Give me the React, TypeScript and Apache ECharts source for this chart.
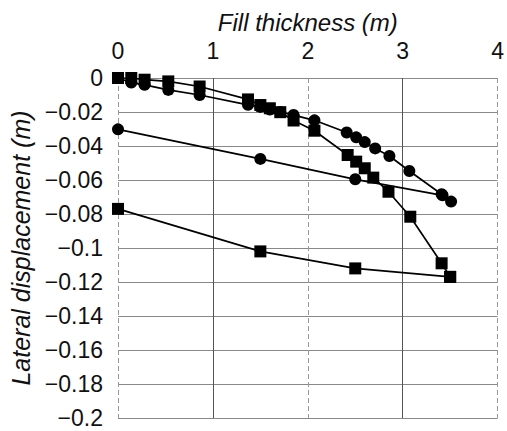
import React, { useEffect, useRef } from "react";
import * as echarts from "echarts";

const xTicks = [0, 1, 2, 3, 4];
const yTickMin = -0.2;
const yTickMax = 0;
const yTickStep = 0.02;
const solidVerticals = [1, 3];

// Series A: squares, upper curve
const xA = [0, 0.14, 0.28, 0.53, 0.86, 1.37, 1.5, 1.6, 1.71, 1.85, 2.07, 2.42, 2.51, 2.6, 2.69, 2.85, 3.08, 3.41, 3.5];
const yA = [0, 0, -0.001, -0.002, -0.005, -0.0126, -0.0159, -0.0178, -0.0201, -0.025, -0.031, -0.0453, -0.0492, -0.0531, -0.0586, -0.0669, -0.0816, -0.109, -0.117];
// Series B: circles, upper curve
const xB = [0, 0.14, 0.28, 0.53, 0.86, 1.37, 1.5, 1.6, 1.71, 1.85, 2.07, 2.41, 2.51, 2.6, 2.71, 2.86, 3.07, 3.41, 3.51];
const yB = [0, -0.0027, -0.004, -0.007, -0.01, -0.0158, -0.017, -0.0185, -0.02, -0.0218, -0.0249, -0.0321, -0.0349, -0.0377, -0.0414, -0.0459, -0.0547, -0.0684, -0.0727];
// Series C: circles, lower line
const xC = [0, 1.5, 2.5, 3.42];
const yC = [-0.0302, -0.0476, -0.0596, -0.069];
// Series D: squares, lower line
const xD = [0, 1.5, 2.5, 3.5];
const yD = [-0.077, -0.102, -0.112, -0.117];

const xTitle = "Fill thickness (m)";
const yTitle = "Lateral displacement (m)";

const zip = (xs: number[], ys: number[]) => xs.map((x, i) => [x, ys[i]]);

export default function App() {
  const ref = useRef<HTMLDivElement>(null);
  useEffect(() => {
    document.body.style.margin = "0";
    document.body.style.overflow = "hidden";
    if (!ref.current) return;
    const chart = echarts.init(ref.current, undefined, { renderer: "svg" });
    const font = "Liberation Sans";
    const mk = (name: string, xs: number[], ys: number[], symbol: string, size: number) => ({
      name,
      type: "line",
      data: zip(xs, ys),
      symbol,
      symbolSize: size,
      showAllSymbol: true,
      lineStyle: { color: "#000", width: 1.7 },
      itemStyle: { color: "#000" },
      z: 3,
    });
    const series: any[] = [
      mk("A", xA, yA, "rect", 12),
      mk("B", xB, yB, "circle", 12),
      mk("C", xC, yC, "circle", 12),
      mk("D", xD, yD, "rect", 12),
    ];
    series[0].markLine = {
      silent: true,
      symbol: "none",
      label: { show: false },
      lineStyle: { color: "#555", width: 1, type: "solid" },
      data: solidVerticals.map((v) => ({ xAxis: v })),
      z: 1,
    };
    chart.setOption({
      animation: false,
      backgroundColor: "#fff",
      grid: { left: 118, right: 9, top: 78, bottom: 13 },
      xAxis: {
        type: "value",
        position: "top",
        min: xTicks[0],
        max: xTicks[xTicks.length - 1],
        interval: 1,
        name: xTitle,
        nameLocation: "middle",
        nameGap: 44,
        nameTextStyle: { fontFamily: font, fontStyle: "italic", fontSize: 24, color: "#111" },
        axisLine: { show: false },
        axisTick: { show: false },
        axisLabel: { fontFamily: font, fontSize: 23, color: "#111", margin: 16 },
        splitLine: { show: true, lineStyle: { color: "#999", width: 1, type: [5, 3] } },
      },
      yAxis: {
        type: "value",
        min: yTickMin,
        max: yTickMax,
        interval: yTickStep,
        name: yTitle,
        nameLocation: "middle",
        nameRotate: 90,
        nameGap: 84,
        nameTextStyle: { fontFamily: font, fontStyle: "italic", fontSize: 25, color: "#111" },
        axisLine: { show: false },
        axisTick: { show: false },
        axisLabel: {
          fontFamily: font,
          fontSize: 23,
          color: "#111",
          margin: 15,
          formatter: (v: number) => {
            const r = Math.round(v * 100) / 100;
            return r === 0 ? "0" : String(r).replace("-", "\u2212");
          },
        },
        splitLine: { show: true, lineStyle: { color: "#888", width: 1 } },
      },
      series,
    });
    return () => chart.dispose();
  }, []);
  return <div ref={ref} style={{ width: 507, height: 431 }} />;
}
